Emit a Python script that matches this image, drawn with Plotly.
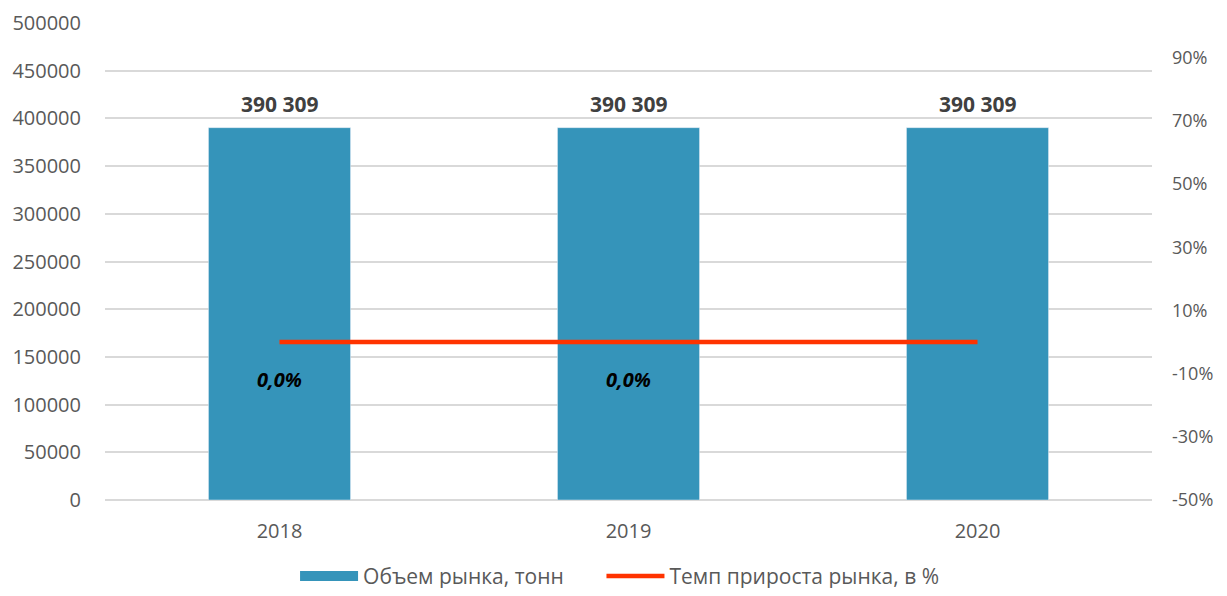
import plotly.graph_objects as go

years = ["2018", "2019", "2020"]
volume = [390309, 390309, 390309]
growth = [0.0, 0.0, 0.0]
volume_labels = ["390 309", "390 309", "390 309"]
growth_labels = ["0,0%", "0,0%", ""]
pct_ticks = [-0.5, -0.3, -0.1, 0.1, 0.3, 0.5, 0.7, 0.9]
pct_labels = ["-50%", "-30%", "-10%", "10%", "30%", "50%", "70%", "90%"]

font_family = "Open Sans, Noto Sans, sans-serif"
grey = "#595959"
bar_color = "#3594BA"
pad = "\u00a0" * 6  # spacing between legend items

fig = go.Figure()

fig.add_trace(go.Bar(
    name="Объем рынка, тонн",
    x=years,
    y=volume,
    marker_color=bar_color,
    showlegend=False
))

# legend entry with a wide swatch, like the original
fig.add_trace(go.Scatter(
    name="Объем рынка, тонн" + pad,
    x=[None], y=[None],
    mode="lines",
    line=dict(color=bar_color, width=16)
))

fig.add_trace(go.Scatter(
    name="Темп прироста рынка, в %",
    x=years,
    y=growth,
    yaxis="y2",
    mode="lines",
    line=dict(color="#FF3300", width=4.5)
))

# bar value labels
for i, (v, lbl) in enumerate(zip(volume, volume_labels)):
    fig.add_annotation(
        x=i, y=v, text=f"<b>{lbl}</b>", showarrow=False,
        yanchor="middle", yshift=24,
        font=dict(size=21, color="#404040", family=font_family)
    )

# growth labels
for i, (g, lbl) in enumerate(zip(growth, growth_labels)):
    if lbl:
        fig.add_annotation(
            x=i, y=g, yref="y2", text=f"<b><i>{lbl}</i></b>",
            showarrow=False, yanchor="middle", yshift=-37,
            font=dict(size=20, color="#000000", family=font_family)
        )

# page body has an 8px margin, so the figure is sized to fit inside it
fig.update_layout(
    width=1211, height=580,
    margin=dict(l=97, r=67, t=15, b=88),
    plot_bgcolor="white",
    paper_bgcolor="white",
    font=dict(family=font_family, size=20, color=grey),
    bargap=0.593,
    showlegend=True,
    legend=dict(orientation="h", xref="container", yref="container",
                x=0.505, xanchor="center", y=0.02, yanchor="middle",
                font=dict(size=21, color=grey), itemwidth=58),
    xaxis=dict(type="category", categoryarray=years, range=[-0.5, 2.5],
               showgrid=False, showline=False, ticks="", ticklabelstandoff=17,
               automargin=False, tickfont=dict(size=20, color=grey)),
    yaxis=dict(range=[0, 500000], dtick=50000, tickformat="d",
               showgrid=True, gridcolor="#D9D9D9", gridwidth=2,
               zeroline=True, zerolinecolor="#D9D9D9", zerolinewidth=2,
               ticklabelstandoff=23, automargin=False,
               tickfont=dict(size=20, color=grey)),
    yaxis2=dict(overlaying="y", side="right", range=[-0.5, 1.01],
                tickvals=pct_ticks, ticktext=pct_labels,
                showgrid=False, zeroline=False, ticklabelstandoff=19,
                automargin=False, tickfont=dict(size=18, color=grey))
)

fig.write_html("out.html")
